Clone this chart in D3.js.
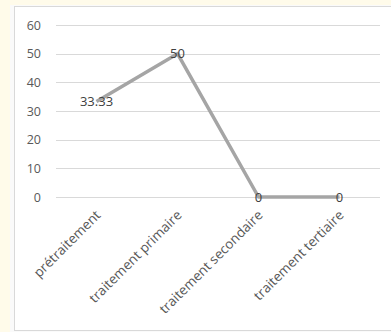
<!DOCTYPE html>
<html><head><meta charset="utf-8">
<script src="https://cdn.jsdelivr.net/npm/d3@7"></script>
<style>
html,body{margin:0;padding:0;background:#fffbea;}
svg{display:block;}
</style></head>
<body>
<svg id="c" width="391" height="332"></svg>
<script>
const categories = ["prétraitement","traitement primaire","traitement secondaire","traitement tertiaire"];
const values = [33.33, 50, 0, 0];
const valueLabels = ["33.33","50","0","0"];
const yTicks = [0,10,20,30,40,50,60];

const svg = d3.select("#c");
const font = "'Open Sans', 'Liberation Sans', sans-serif";
// chart area box
svg.append("rect").attr("x",10).attr("y",5).attr("width",381).attr("height",327).attr("fill","#fafafa");
svg.append("rect").attr("x",14.5).attr("y",6.5).attr("width",380).attr("height",324).attr("fill","#fff").attr("stroke","#d9d9d9").attr("stroke-width",1);

const x = d3.scaleBand().domain(categories).range([56,380]);
const y = d3.scaleLinear().domain([0,60]).range([197,25]);

// gridlines
svg.append("g").selectAll("line").data(yTicks).join("line")
  .attr("x1",56).attr("x2",380)
  .attr("y1",d=>Math.round(y(d))+0.5).attr("y2",d=>Math.round(y(d))+0.5)
  .attr("stroke","#d9d9d9").attr("stroke-width",1);

// y axis labels
const yAxis = d3.axisLeft(y).tickValues(yTicks).tickSize(0).tickPadding(0);
const yg = svg.append("g").attr("transform","translate(41,0)").call(yAxis);
yg.select(".domain").remove();
yg.selectAll("text").attr("font-family",font).attr("font-size",12.5).attr("fill","#595959");

// x axis labels
const xAxis = d3.axisBottom(x).tickSize(0).tickPadding(0);
const xg = svg.append("g").attr("transform","translate(0,197)").call(xAxis);
xg.select(".domain").remove();
xg.selectAll("text")
  .attr("font-family",font).attr("font-size",13.5).attr("fill","#595959")
  .attr("text-anchor","end").attr("dy",null).attr("y",0)
  .attr("transform","translate(5,19) rotate(-45)");

// line
const line = d3.line().x((d,i)=>x(categories[i])+x.bandwidth()/2).y(d=>y(d));
svg.append("path").datum(values).attr("d",line)
  .attr("fill","none").attr("stroke","#a5a5a5").attr("stroke-width",3.5).attr("stroke-linejoin","round");

// data labels
svg.append("g").selectAll("text").data(values).join("text")
  .attr("x",(d,i)=>x(categories[i])+x.bandwidth()/2)
  .attr("y",d=>y(d))
  .attr("dy","0.35em")
  .attr("text-anchor","middle")
  .attr("font-family",font).attr("font-size",13).attr("fill","#404040")
  .text((d,i)=>valueLabels[i]);
</script>
</body></html>
